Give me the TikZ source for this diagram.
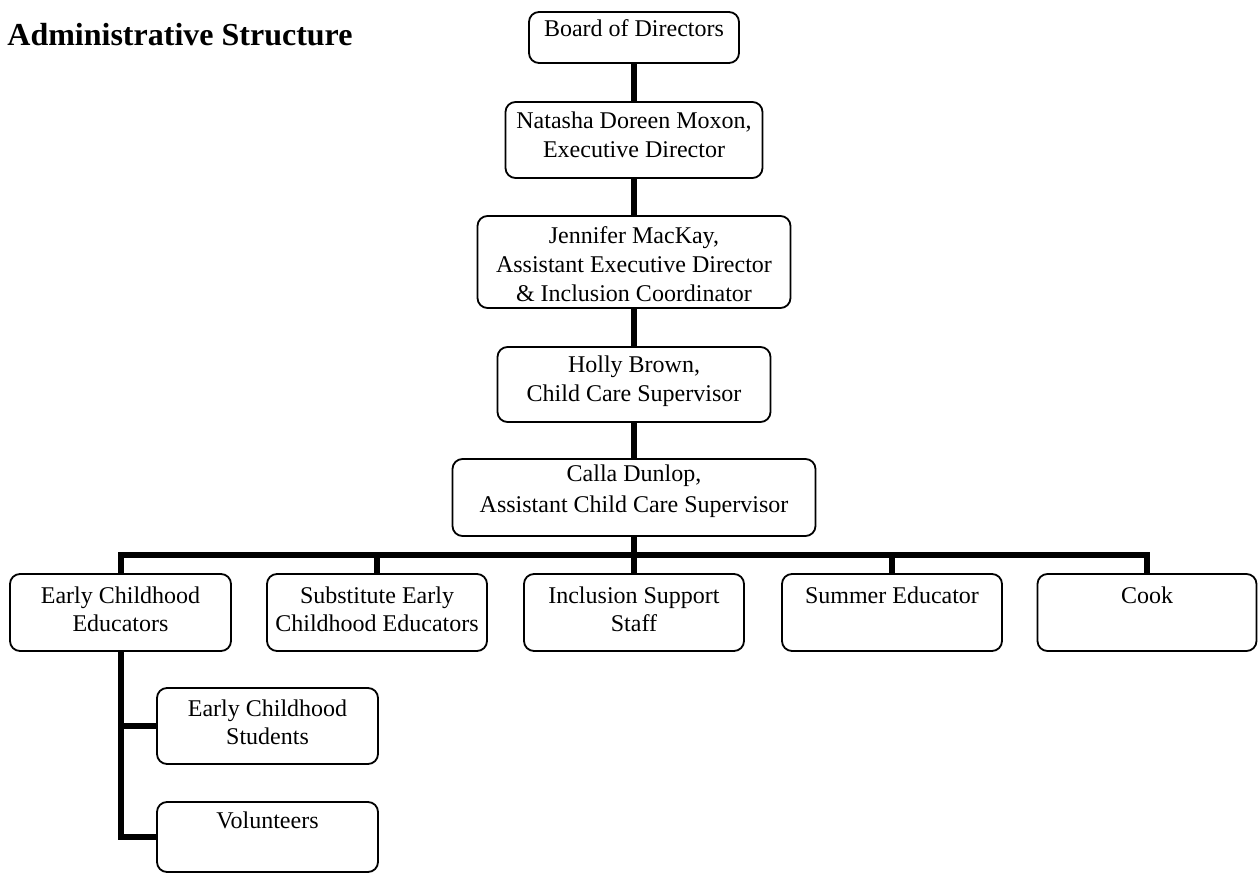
\documentclass[tikz,border=0pt]{standalone}
\usepackage{fontspec}
\setmainfont{Liberation Serif}
% #1 width px, #2 height px, #3 first baseline offset px, #4 text
\newcommand\orgbox[4]{\parbox[c][\dimexpr#2pt/2\relax][t]{\dimexpr#1pt/2\relax}{\centering\vspace*{\dimexpr#3pt/2-9pt\relax}\rule{0pt}{9pt}#4\par}}
\tikzset{
  orgnode/.style={draw, line width=0.9pt, rounded corners=5pt, inner sep=0pt, fill=white,
    font=\fontsize{12}{14.4}\selectfont},
  conn/.style={line width=3pt},
  titletext/.style={inner sep=0pt, font=\fontsize{16}{19}\selectfont\bfseries}
}
\begin{document}
\begin{tikzpicture}[x=0.5pt, y=-0.5pt]
\useasboundingbox (0,0) rectangle (1258,876);

\node[titletext, anchor=base west] (title) at (7,46) {Administrative Structure};

\node[orgnode] (board) at (634,37.5) {\orgbox{210}{51}{25}{Board of Directors}};
\node[orgnode] (natasha) at (634,140) {\orgbox{257}{76}{27}{Natasha Doreen Moxon,\\Executive Director}};
\node[orgnode] (jennifer) at (634,262) {\orgbox{313}{92}{28}{Jennifer MacKay,\\Assistant Executive Director\\\& Inclusion Coordinator}};
\node[orgnode] (holly) at (634,384.5) {\orgbox{273}{75}{26}{Holly Brown,\\Child Care Supervisor}};
\node[orgnode] (calla) at (634,497.5) {\orgbox{363}{77}{23}{Calla Dunlop,\\[1pt]Assistant Child Care Supervisor}};

\node[orgnode] (ece) at (120.5,612.5) {\orgbox{221}{77}{29}{Early Childhood\\Educators}};
\node[orgnode] (sub) at (377,612.5) {\orgbox{220}{77}{29}{Substitute Early\\Childhood Educators}};
\node[orgnode] (incl) at (634,612.5) {\orgbox{220}{77}{29}{Inclusion Support\\Staff}};
\node[orgnode] (summer) at (892,612.5) {\orgbox{220}{77}{29}{Summer Educator}};
\node[orgnode] (cook) at (1147,612.5) {\orgbox{219}{77}{29}{Cook}};

\node[orgnode] (ecs) at (267.5,726) {\orgbox{221}{76}{28}{Early Childhood\\Students}};
\node[orgnode] (vol) at (267.5,837) {\orgbox{221}{70}{26}{Volunteers}};

\coordinate (bar) at (634,555);

\draw[conn] (board.south) -- (natasha.north);
\draw[conn] (natasha.south) -- (jennifer.north);
\draw[conn] (jennifer.south) -- (holly.north);
\draw[conn] (holly.south) -- (calla.north);
\draw[conn] (calla.south) -- (bar);
\draw[conn] (ece.north) |- (bar) -| (cook.north);
\draw[conn] (sub.north) -- (sub.north |- bar);
\draw[conn] (incl.north) -- (incl.north |- bar);
\draw[conn] (summer.north) -- (summer.north |- bar);

\draw[conn] (ece.south) |- (vol.west);
\draw[conn] (ece.south |- ecs.west) -- (ecs.west);
\end{tikzpicture}
\end{document}
